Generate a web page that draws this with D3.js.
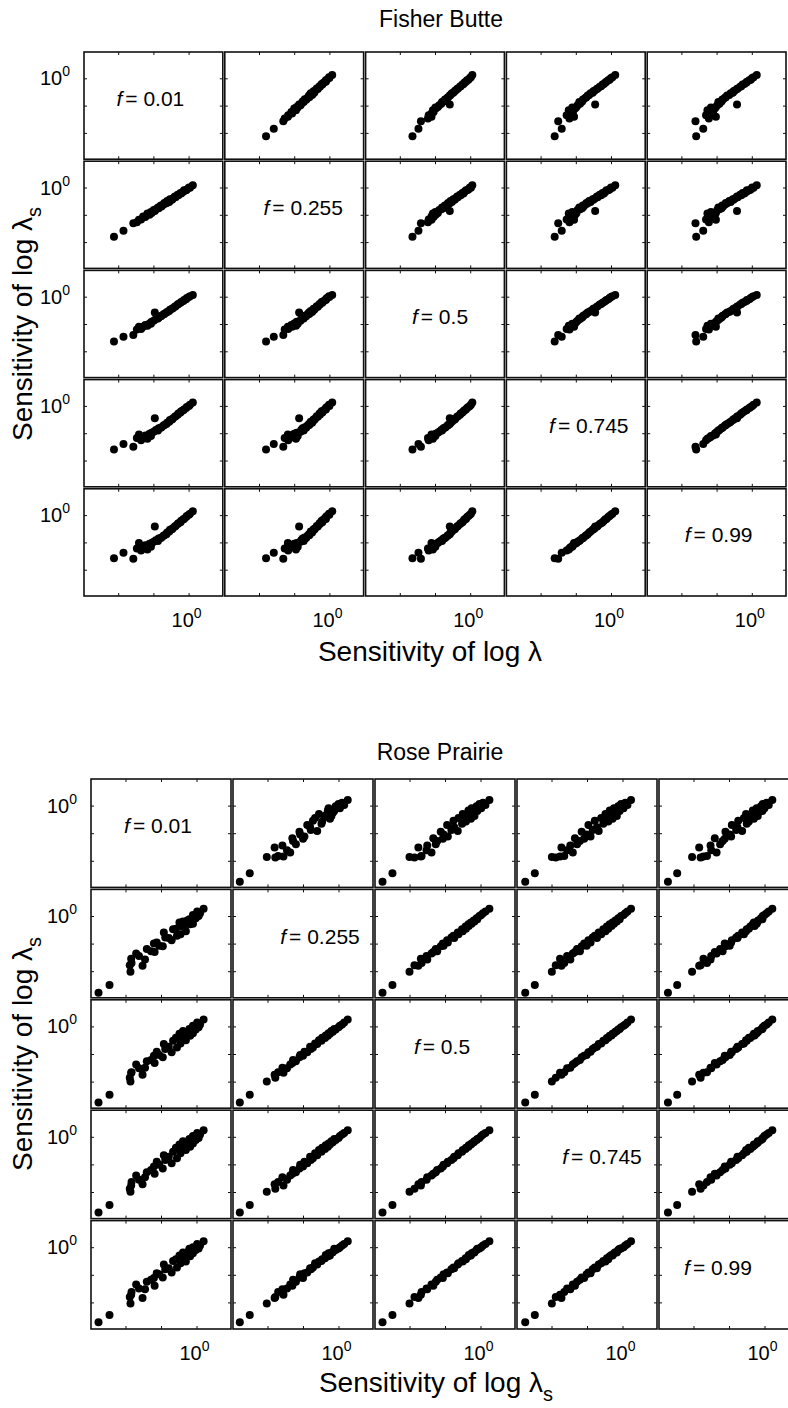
<!DOCTYPE html>
<html>
<head>
    <script src="https://d3js.org/d3.v7.min.js"></script>
    <style>
        body { margin: 0; background: #fff; }
        text { font-family: "Liberation Sans", Arial, sans-serif; fill: #000; }
        .tick line { stroke: #111; stroke-width: 1; }
        .domain { display: none; }
    </style>
</head>
<body>
<svg id="chart" width="788" height="1408"></svg>
<script>
    // diagonal labels
    const fValues = ["0.01", "0.255", "0.5", "0.745", "0.99"];

    // Fisher Butte, log10 of sensitivity, one array per f (same element order)
    const fisherF001 = [-2.12, -1.85, -1.57, -1.47, -1.41, -1.35, -1.29, -1.23, -1.17, -1.11, -1.07, -1.05, -0.99, -0.96, -0.93, -0.87, -0.85, -0.79, -0.77, -0.71, -0.69, -0.63, -0.61, -0.55, -0.53, -0.47, -0.45, -0.39, -0.37, -0.31, -0.29, -0.23, -0.21, -0.15, -0.13, -0.07, -0.05, 0.01, 0.04, 0.12];
    const fisherF0255 = [-1.80, -1.58, -1.31, -1.27, -1.18, -1.17, -1.06, -1.08, -0.95, -1.00, -0.90, -0.93, -0.82, -0.86, -0.80, -0.73, -0.76, -0.66, -0.70, -0.62, -0.57, -0.58, -0.49, -0.53, -0.43, -0.45, -0.40, -0.33, -0.36, -0.27, -0.28, -0.20, -0.22, -0.16, -0.10, -0.10, -0.07, 0.00, -0.01, 0.08];
    const fisherF05 = [-1.64, -1.47, -1.40, -1.20, -1.10, -1.18, -1.10, -1.04, -1.06, -0.98, -0.99, -0.92, -0.88, -0.58, -0.82, -0.80, -0.76, -0.72, -0.70, -0.64, -0.63, -0.58, -0.56, -0.52, -0.48, -0.44, -0.42, -0.37, -0.35, -0.29, -0.27, -0.22, -0.19, -0.16, -0.12, -0.09, -0.05, -0.01, 0.02, 0.06];
    const fisherF0745 = [-1.60, -1.40, -1.50, -1.18, -1.05, -1.26, -1.15, -1.08, -1.20, -1.02, -1.10, -0.98, -0.95, -0.45, -0.88, -0.90, -0.82, -0.80, -0.78, -0.72, -0.70, -0.66, -0.62, -0.58, -0.52, -0.50, -0.46, -0.40, -0.38, -0.32, -0.28, -0.24, -0.20, -0.16, -0.13, -0.08, -0.04, 0.00, 0.04, 0.12];
    const fisherF099 = [-1.58, -1.38, -1.60, -1.22, -1.02, -1.30, -1.18, -1.10, -1.26, -1.05, -1.16, -1.02, -0.98, -0.42, -0.92, -0.95, -0.86, -0.84, -0.82, -0.76, -0.74, -0.70, -0.64, -0.60, -0.54, -0.52, -0.48, -0.42, -0.40, -0.33, -0.30, -0.26, -0.21, -0.15, -0.14, -0.07, -0.03, 0.01, 0.05, 0.14];

    // Rose Prairie
    const roseF001 = [-2.76, -2.45, -1.86, -1.88, -1.84, -1.52, -1.83, -1.62, -1.45, -1.70, -1.18, -1.40, -1.28, -0.95, -1.20, -1.05, -0.70, -1.12, -0.88, -0.55, -0.78, -0.92, -0.45, -0.66, -0.30, -0.40, -0.58, -0.18, -0.35, -0.48, -0.10, -0.26, -0.38, -0.02, -0.20, 0.06, -0.10, 0.10, 0.02, 0.20];
    const roseF0255 = [-2.78, -2.50, -2.02, -1.78, -1.55, -1.80, -1.70, -1.45, -1.58, -1.36, -1.30, -1.20, -1.28, -1.10, -1.00, -1.08, -0.88, -0.96, -0.78, -0.72, -0.80, -0.60, -0.66, -0.48, -0.55, -0.38, -0.46, -0.30, -0.36, -0.24, -0.28, -0.16, -0.20, -0.08, -0.12, 0.00, 0.04, 0.10, 0.16, 0.26];
    const roseF05 = [-2.76, -2.48, -2.00, -1.86, -1.68, -1.75, -1.66, -1.52, -1.50, -1.38, -1.33, -1.26, -1.22, -1.12, -1.06, -1.04, -0.94, -0.92, -0.82, -0.76, -0.74, -0.64, -0.62, -0.52, -0.50, -0.42, -0.41, -0.34, -0.33, -0.27, -0.25, -0.19, -0.17, -0.11, -0.09, -0.03, 0.02, 0.07, 0.14, 0.25];
    const roseF0745 = [-2.74, -2.47, -1.99, -1.88, -1.76, -1.72, -1.64, -1.56, -1.47, -1.40, -1.34, -1.28, -1.20, -1.15, -1.08, -1.01, -0.96, -0.90, -0.84, -0.78, -0.72, -0.67, -0.60, -0.54, -0.48, -0.44, -0.40, -0.36, -0.31, -0.28, -0.24, -0.20, -0.16, -0.12, -0.08, -0.04, 0.03, 0.08, 0.14, 0.24];
    const roseF099 = [-2.72, -2.46, -2.04, -1.80, -1.72, -1.84, -1.62, -1.50, -1.52, -1.35, -1.40, -1.25, -1.18, -1.10, -1.12, -0.98, -0.92, -0.94, -0.80, -0.74, -0.76, -0.63, -0.58, -0.50, -0.52, -0.40, -0.44, -0.33, -0.28, -0.30, -0.22, -0.18, -0.19, -0.10, -0.06, -0.05, 0.00, 0.06, 0.12, 0.22];

    const svg = d3.select("#chart");

    const panels = [
        {
            title: "Fisher Butte", titleX: 441, titleY: 27,
            left: 83, top: 51, cw: 140.8, ch: 109.2,
            vectors: [fisherF001, fisherF0255, fisherF05, fisherF0745, fisherF099],
            xSub: false, tickY: 627, xLabelX: 430, xLabelY: 661, yLabelX: 32,
            labelDx: [-3, 9, 5, 13, 2]
        },
        {
            title: "Rose Prairie", titleX: 440, titleY: 760,
            left: 90, top: 778, cw: 142, ch: 110.4,
            vectors: [roseF001, roseF0255, roseF05, roseF0745, roseF099],
            xSub: true, tickY: 1360, xLabelX: 436, xLabelY: 1392, yLabelX: 32,
            labelDx: [-3, 17, -3, 15, -11]
        }
    ];

    function addPower(sel) {
        sel.append("tspan").text("10");
        sel.append("tspan").attr("dy", -9).attr("font-size", 14).text("0");
    }

    function addSensLabel(sel, sub) {
        sel.append("tspan").text("Sensitivity of log λ");
        if (sub) sel.append("tspan").attr("dy", 9).attr("font-size", 20).text("s");
    }

    panels.forEach(p => {
        const g = svg.append("g");
        const n = p.vectors.length;

        const x = d3.scaleLog().domain([1e-3, 10]).range([0, p.cw]);
        const y = d3.scaleLog().domain([1e-3, 10]).range([p.ch, 0]);
        const majors = [0.01, 0.1, 1];

        g.append("text")
            .attr("x", p.titleX).attr("y", p.titleY)
            .attr("text-anchor", "middle").attr("font-size", 23)
            .text(p.title);

        for (let i = 0; i < n; i++) {
            for (let j = 0; j < n; j++) {
                const cell = g.append("g")
                    .attr("transform", `translate(${p.left + j * p.cw},${p.top + i * p.ch})`);

                cell.append("rect")
                    .attr("x", 1).attr("y", 1)
                    .attr("width", p.cw - 2).attr("height", p.ch - 2)
                    .attr("fill", "none").attr("stroke", "#111").attr("stroke-width", 1.6);

                // inward ticks on all four sides
                cell.append("g").attr("transform", `translate(0,${p.ch - 1})`)
                    .call(d3.axisBottom(x).tickValues(majors).tickSize(-3).tickFormat(""));
                cell.append("g").attr("transform", "translate(0,1)")
                    .call(d3.axisTop(x).tickValues(majors).tickSize(-3).tickFormat(""));
                cell.append("g").attr("transform", "translate(1,0)")
                    .call(d3.axisLeft(y).tickValues(majors).tickSize(-3).tickFormat(""));
                cell.append("g").attr("transform", `translate(${p.cw - 1},0)`)
                    .call(d3.axisRight(y).tickValues(majors).tickSize(-3).tickFormat(""));

                if (i === j) {
                    const t = cell.append("text")
                        .attr("x", p.cw / 2 + p.labelDx[i])
                        .attr("y", p.ch / 2)
                        .attr("text-anchor", "middle").attr("font-size", 21);
                    t.append("tspan").attr("font-style", "italic").text("f");
                    t.append("tspan").attr("dx", 3).text("= " + fValues[i]);
                } else {
                    const pts = p.vectors[j].map((v, k) => [v, p.vectors[i][k]]);
                    cell.selectAll("circle").data(pts)
                        .join("circle")
                        .attr("cx", d => x(Math.pow(10, d[0])))
                        .attr("cy", d => y(Math.pow(10, d[1])))
                        .attr("r", 4)
                        .attr("fill", "#000");
                }
            }
        }

        // tick labels
        for (let j = 0; j < n; j++) {
            g.append("text")
                .attr("x", p.left + j * p.cw + x(1) - 2)
                .attr("y", p.tickY)
                .attr("text-anchor", "middle").attr("font-size", 20)
                .call(addPower);
        }
        for (let i = 0; i < n; i++) {
            g.append("text")
                .attr("x", p.left - 13)
                .attr("y", p.top + i * p.ch + y(1) + 7)
                .attr("text-anchor", "end").attr("font-size", 20)
                .call(addPower);
        }

        // axis labels
        g.append("text")
            .attr("x", p.xLabelX).attr("y", p.xLabelY)
            .attr("text-anchor", "middle").attr("font-size", 28)
            .call(addSensLabel, p.xSub);

        const gridMid = p.top + n * p.ch / 2;
        g.append("text")
            .attr("transform", `translate(${p.yLabelX},${gridMid}) rotate(-90)`)
            .attr("text-anchor", "middle").attr("font-size", 28)
            .call(addSensLabel, true);
    });
</script>
</body>
</html>
